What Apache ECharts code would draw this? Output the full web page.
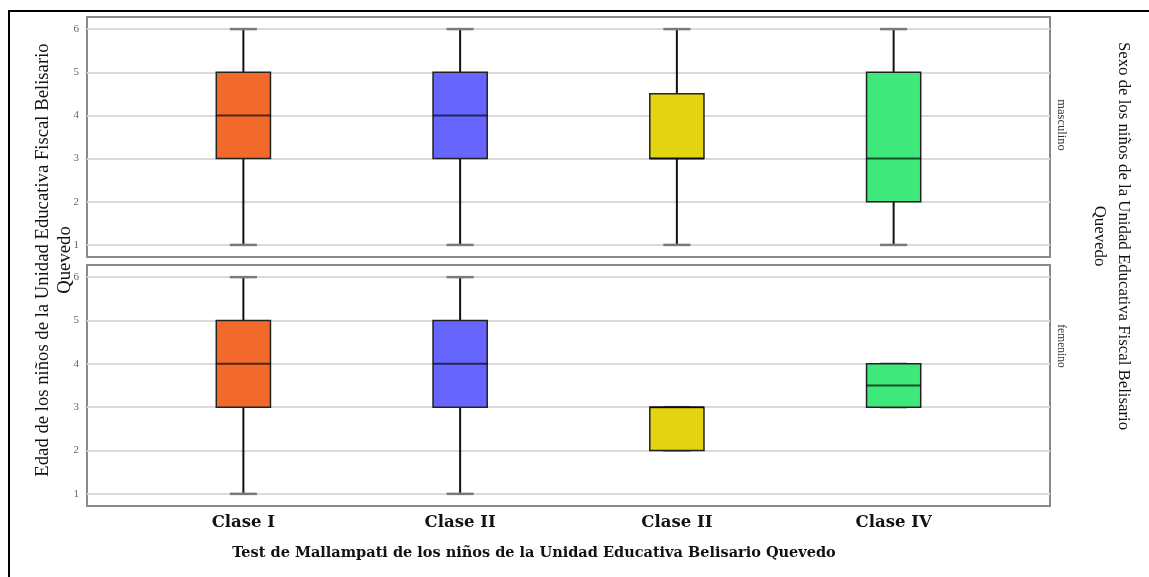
<!DOCTYPE html>
<html>
<head>
<meta charset="utf-8">
<script src="https://cdn.jsdelivr.net/npm/echarts@6/dist/echarts.min.js"></script>
<style>
  html, body { margin: 0; padding: 0; background: #fff; }
  #chart { width: 1149px; height: 577px; }
</style>
</head>
<body>
<div id="chart"></div>
<script>
// Categories (Mallampati class) and panels (sex)
const categories = ['Clase I', 'Clase II', 'Clase II', 'Clase IV'];
const panels = ['masculino', 'femenino'];

// Box statistics per category: [min, Q1, median, Q3, max] (age in years)
const masculinoStats = [
  [1, 3, 4, 5, 6],
  [1, 3, 4, 5, 6],
  [1, 3, 3, 4.5, 6],
  [1, 2, 3, 5, 6]
];
const femeninoStats = [
  [1, 3, 4, 5, 6],
  [1, 3, 4, 5, 6],
  [2, 2, 3, 3, 3],
  [3, 3, 3.5, 4, 4]
];

const boxColors = ['#F26A2B', '#6666FF', '#E2D410', '#3FE87A'];
const yMin = 0.72;
const yMax = 6.28;

const serif = 'Liberation Serif';
const boldSerif = 'DejaVu Serif';

const chart = echarts.init(document.getElementById('chart'));

function renderBox(params, api) {
  const i = api.value(0);
  const p = [1, 2, 3, 4, 5].map(function (d) { return api.coord([i, api.value(d)]); });
  const band = api.size([1, 0])[0];
  const bw = band * 0.25;
  const x = p[0][0];
  const yLo = p[0][1], yQ1 = p[1][1], yMed = p[2][1], yQ3 = p[3][1], yHi = p[4][1];
  const whisker = { stroke: '#111', lineWidth: 2 };
  const cap = { stroke: '#7a7a7a', lineWidth: 2.5 };
  return {
    type: 'group',
    children: [
      { type: 'line', shape: { x1: x, y1: yQ3, x2: x, y2: yHi }, style: whisker },
      { type: 'line', shape: { x1: x, y1: yQ1, x2: x, y2: yLo }, style: whisker },
      { type: 'line', shape: { x1: x - bw / 4, y1: yHi, x2: x + bw / 4, y2: yHi }, style: cap },
      { type: 'line', shape: { x1: x - bw / 4, y1: yLo, x2: x + bw / 4, y2: yLo }, style: cap },
      {
        type: 'rect',
        shape: { x: x - bw / 2, y: yQ3, width: bw, height: yQ1 - yQ3 },
        style: { fill: boxColors[params.dataIndex], stroke: '#222', lineWidth: 1.5 }
      },
      { type: 'line', shape: { x1: x - bw / 2, y1: yMed, x2: x + bw / 2, y2: yMed },
        style: { stroke: 'rgba(0,0,0,0.65)', lineWidth: 2 } }
    ]
  };
}

function toData(stats) {
  return stats.map(function (s, i) { return [i].concat(s); });
}

const panelRects = [
  { top: 17, height: 240 },
  { top: 265, height: 241 }
];

const grids = [];
const xAxes = [];
const yAxes = [];
const series = [];

// Outer grids: panel frame, gridlines and tick labels
panelRects.forEach(function (r, k) {
  grids.push({ left: 87, width: 963, top: r.top, height: r.height, show: true,
    borderColor: '#8a8a8a', borderWidth: 2, backgroundColor: 'transparent' });
  xAxes.push({ gridIndex: k, type: 'value', min: 0, max: 1, show: false });
  yAxes.push({
    gridIndex: k, type: 'value', min: yMin, max: yMax,
    axisLine: { show: false }, axisTick: { show: false },
    splitLine: { show: true, showMinLine: false, showMaxLine: false,
      lineStyle: { color: '#dadada', width: 2 } },
    axisLabel: {
      show: true, margin: 8, fontFamily: serif, fontSize: 11, color: '#666',
      showMinLabel: false, showMaxLabel: false,
      formatter: function (v) { return Math.abs(v - Math.round(v)) < 1e-6 ? String(Math.round(v)) : ''; }
    }
  });
});

// Inner grids: category placement of the boxes
panelRects.forEach(function (r, k) {
  const g = grids.length;
  grids.push({ left: 135, width: 867, top: r.top, height: r.height, show: false });
  xAxes.push({
    gridIndex: g, type: 'category', data: categories,
    show: k === 1,
    axisLine: { show: false }, axisTick: { show: false }, splitLine: { show: false },
    axisLabel: { margin: 8, fontFamily: boldSerif, fontWeight: 'bold', fontSize: 16.5, color: '#111' }
  });
  yAxes.push({ gridIndex: g, type: 'value', min: yMin, max: yMax, show: false, splitLine: { show: false } });
  series.push({
    name: panels[k],
    type: 'custom',
    xAxisIndex: g, yAxisIndex: g,
    renderItem: renderBox,
    encode: { x: 0, y: [1, 2, 3, 4, 5] },
    data: toData(k === 0 ? masculinoStats : femeninoStats),
    z: 5
  });
});

chart.setOption({
  animation: false,
  backgroundColor: '#fff',
  grid: grids,
  xAxis: xAxes,
  yAxis: yAxes,
  series: series,
  graphic: [
    { type: 'rect', shape: { x: 9, y: 11, width: 1300, height: 800 },
      style: { fill: 'none', stroke: '#000', lineWidth: 2 }, z: 100 },
    { type: 'text', x: 54, y: 260, rotation: Math.PI / 2,
      style: { text: 'Edad de los niños de la Unidad Educativa Fiscal Belisario\nQuevedo',
        font: '18.7px "' + serif + '"', fill: '#111', align: 'center', verticalAlign: 'middle', lineHeight: 22 } },
    { type: 'text', x: 1111, y: 236, rotation: -Math.PI / 2,
      style: { text: 'Sexo de los niños de la Unidad Educativa Fiscal Belisario\nQuevedo',
        font: '16.8px "' + serif + '"', fill: '#111', align: 'center', verticalAlign: 'middle', lineHeight: 24 } },
    { type: 'text', x: 1061, y: 125, rotation: -Math.PI / 2,
      style: { text: panels[0], font: '12.5px "' + serif + '"', fill: '#333', align: 'center', verticalAlign: 'middle' } },
    { type: 'text', x: 1061, y: 346, rotation: -Math.PI / 2,
      style: { text: panels[1], font: '11.5px "' + serif + '"', fill: '#333', align: 'center', verticalAlign: 'middle' } },
    { type: 'text', x: 534, y: 553,
      style: { text: 'Test de Mallampati de los niños de la Unidad Educativa Belisario Quevedo',
        font: 'bold 14.5px "' + boldSerif + '"', fill: '#111', align: 'center', verticalAlign: 'middle' } }
  ]
});
</script>
</body>
</html>
